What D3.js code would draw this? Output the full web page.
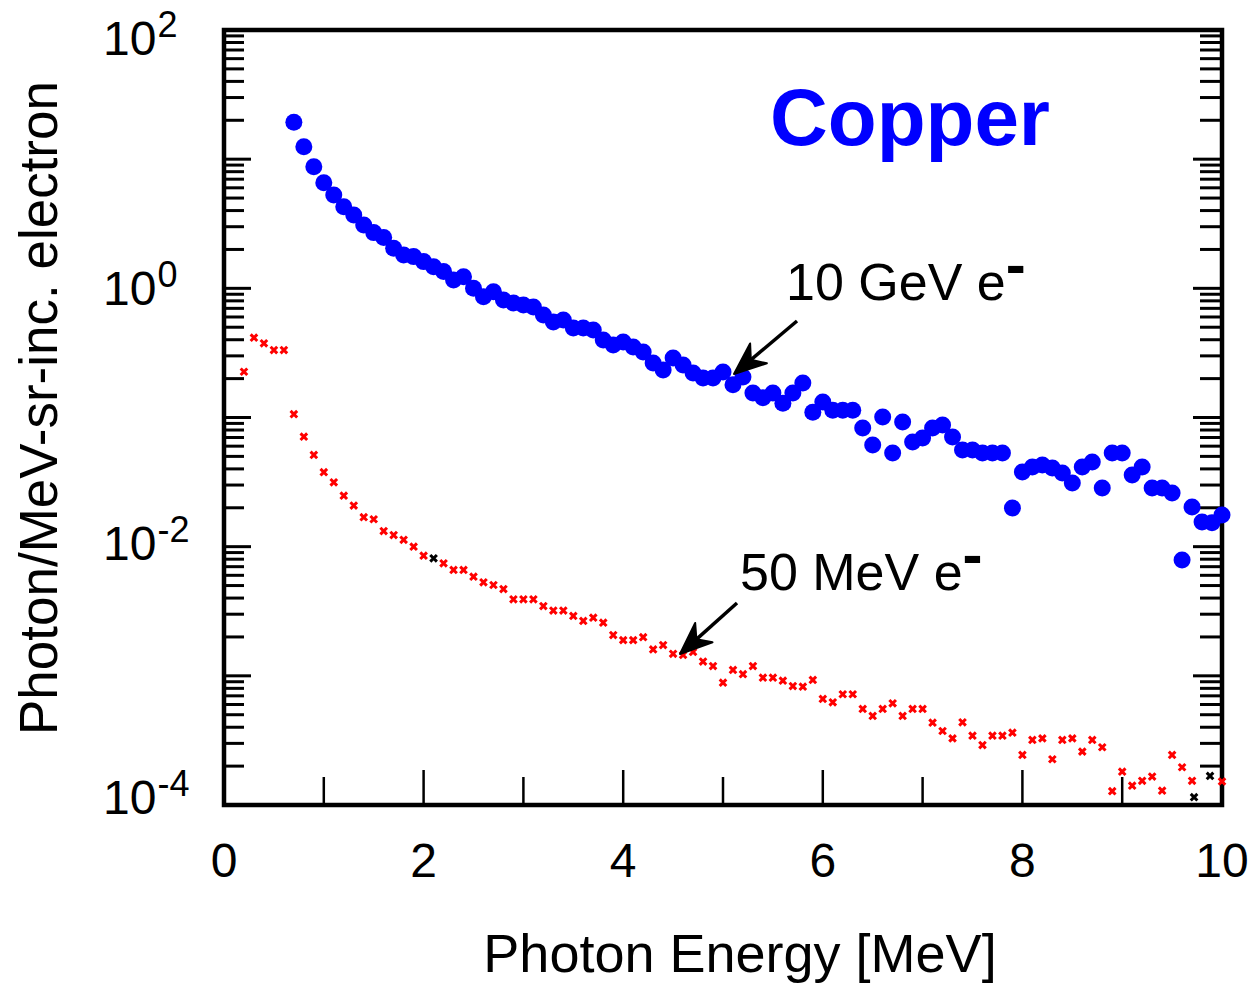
<!DOCTYPE html>
<html>
<head>
<meta charset="utf-8">
<script src="https://cdn.jsdelivr.net/npm/d3@7"></script>
<style>
  body { margin: 0; background: #fff; }
  svg { display: block; }
  text { font-family: "Liberation Sans", Arial, sans-serif; fill: #000; }
</style>
</head>
<body>
<svg id="chart" width="1248" height="985"></svg>
<script>
// 10 GeV electrons (blue dots)
var blueE = [0.7, 0.8, 0.9, 1.0, 1.1, 1.2, 1.3, 1.4, 1.5, 1.6, 1.7, 1.8, 1.9, 2.0,
	2.1, 2.2, 2.3, 2.4, 2.5, 2.6, 2.7, 2.8, 2.9, 3.0, 3.1, 3.2, 3.3, 3.4, 3.5, 3.6,
	3.7, 3.8, 3.9, 4.0, 4.1, 4.2, 4.3, 4.4, 4.5, 4.6, 4.7, 4.8, 4.9, 5.0, 5.1, 5.2,
	5.3, 5.4, 5.5, 5.6, 5.7, 5.8, 5.9, 6.0, 6.1, 6.2, 6.3, 6.4, 6.5, 6.6, 6.7, 6.8,
	6.9, 7.0, 7.1, 7.2, 7.3, 7.4, 7.5, 7.6, 7.7, 7.8, 7.9, 8.0, 8.1, 8.2, 8.3, 8.4,
	8.5, 8.6, 8.7, 8.8, 8.9, 9.0, 9.1, 9.2, 9.3, 9.4, 9.5, 9.6, 9.7, 9.8, 9.9, 10.0];
var blueY = [19.3, 12.5, 8.74, 6.57, 5.28, 4.29, 3.70, 3.09, 2.70, 2.47, 2.04, 1.81, 1.76, 1.61,
	1.47, 1.35, 1.16, 1.23, 1.00, 0.862, 0.942, 0.812, 0.770, 0.743, 0.717, 0.622, 0.549, 0.569, 0.493, 0.493,
	0.476, 0.398, 0.364, 0.384, 0.351, 0.321, 0.264, 0.233, 0.289, 0.255, 0.221, 0.202, 0.202, 0.225, 0.179, 0.206,
	0.155, 0.142, 0.155, 0.129, 0.155, 0.185, 0.110, 0.132, 0.114, 0.114, 0.114, 0.0829, 0.0612, 0.101, 0.0531, 0.0923,
	0.0646, 0.0694, 0.0829, 0.0875, 0.0707, 0.0560, 0.0560, 0.0531, 0.0531, 0.0531, 0.0199, 0.0379, 0.0414, 0.0429, 0.0407, 0.0372,
	0.0311, 0.0414, 0.0452, 0.0285, 0.0531, 0.0531, 0.0359, 0.0414, 0.0285, 0.0285, 0.0260, 0.00788, 0.0203, 0.0155, 0.0153, 0.0176];

// 50 MeV electrons (red crosses)
var redE = [0.2, 0.3, 0.4, 0.5, 0.6, 0.7, 0.8, 0.9, 1.0, 1.1, 1.2, 1.3, 1.4, 1.5, 1.6,
	1.7, 1.8, 1.9, 2.0, 2.2, 2.3, 2.4, 2.5, 2.6, 2.7, 2.8, 2.9, 3.0, 3.1, 3.2, 3.3,
	3.4, 3.5, 3.6, 3.7, 3.8, 3.9, 4.0, 4.1, 4.2, 4.3, 4.4, 4.5, 4.6, 4.7, 4.8, 4.9,
	5.0, 5.1, 5.2, 5.3, 5.4, 5.5, 5.6, 5.7, 5.8, 5.9, 6.0, 6.1, 6.2, 6.3, 6.4, 6.5,
	6.6, 6.7, 6.8, 6.9, 7.0, 7.1, 7.2, 7.3, 7.4, 7.5, 7.6, 7.7, 7.8, 7.9, 8.0, 8.1,
	8.2, 8.3, 8.4, 8.5, 8.6, 8.7, 8.8, 8.9, 9.0, 9.1, 9.2, 9.3, 9.4, 9.5, 9.6, 9.7, 10.0];
var redY = [0.226, 0.415, 0.375, 0.333, 0.333, 0.106, 0.0710, 0.0513, 0.0377, 0.0315, 0.0248, 0.0208, 0.0169, 0.0163, 0.0132,
	0.0123, 0.0113, 0.0100, 0.00852, 0.00743, 0.00660, 0.00660, 0.00586, 0.00530, 0.00505, 0.00470, 0.00391, 0.00391, 0.00391, 0.00347, 0.00320,
	0.00320, 0.00291, 0.00266, 0.00282, 0.00258, 0.00207, 0.00189, 0.00189, 0.00199, 0.00160, 0.00173, 0.00148, 0.00145, 0.00153, 0.00129, 0.00119,
	0.000885, 0.00111, 0.00103, 0.00119, 0.000968, 0.000968, 0.000917, 0.000834, 0.000824, 0.000929, 0.000662, 0.000624, 0.000720, 0.000720, 0.000554, 0.000489,
	0.000554, 0.000613, 0.000489, 0.000554, 0.000554, 0.000434, 0.000374, 0.000328, 0.000437, 0.000344, 0.000291, 0.000344, 0.000344, 0.000363, 0.000244, 0.000319,
	0.000328, 0.000226, 0.000319, 0.000328, 0.000259, 0.000319, 0.000280, 0.000128, 0.000181, 0.000141, 0.000154, 0.000166, 0.000129, 0.000244, 0.000196, 0.000154, 0.000152];

// a few crosses drawn in black
var blackE = [2.1, 9.72, 9.88];
var blackY = [0.00813, 0.000115, 0.000168];

var xTicks = [0, 1, 2, 3, 4, 5, 6, 7, 8, 9, 10];
var xLabels = [0, 2, 4, 6, 8, 10];
var yExps = [2, 0, -2, -4];
var yLabelDy = [25, 17, 13, 9];   // baseline offset of each decade label below its tick

var svg = d3.select('#chart');
var pLeft = 224, pRight = 1222, pTop = 30, pBottom = 805;

var x = d3.scaleLinear().domain([0, 10]).range([pLeft, pRight]);
var y = d3.scaleLog().domain([1e-4, 1e2]).range([pBottom, pTop]);

// y ticks: every 1..9 x 10^n
var yTicks = [];
for (var d = -4; d < 2; d++) {
	for (var k = 1; k < 10; k++) yTicks.push({v: k * Math.pow(10, d), major: k == 1});
}
yTicks.push({v: 100, major: true});

var ticks = svg.append('g').attr('stroke', '#000').attr('stroke-width', 3);
yTicks.forEach(function(t) {
	ticks.append('line')
		.attr('x1', pLeft).attr('x2', pLeft + (t.major ? 27 : 20))
		.attr('y1', y(t.v)).attr('y2', y(t.v));
	ticks.append('line')
		.attr('x1', pRight).attr('x2', pRight - (t.major ? 29 : 22))
		.attr('y1', y(t.v)).attr('y2', y(t.v));
});
xTicks.forEach(function(t) {
	ticks.append('line')
		.attr('x1', x(t)).attr('x2', x(t))
		.attr('y1', pBottom).attr('y2', pBottom - (t % 2 == 0 ? 35 : 28))
		.attr('stroke-width', 2.5);
});

// frame
svg.append('rect')
	.attr('x', pLeft).attr('y', pTop)
	.attr('width', pRight - pLeft).attr('height', pBottom - pTop)
	.attr('fill', 'none').attr('stroke', '#000').attr('stroke-width', 4.5);

// tick labels
svg.selectAll('text.xlab')
	.data(xLabels).enter()
	.append('text')
	.attr('class', 'xlab')
	.attr('x', function(d) { return x(d); })
	.attr('y', 877)
	.attr('text-anchor', 'middle')
	.style('font-size', '48px')
	.text(function(d) { return d; });

yExps.forEach(function(e, i) {
	var t = svg.append('text')
		.attr('x', 103)
		.attr('y', y(Math.pow(10, e)) + yLabelDy[i])
		.style('font-size', '48px');
	t.append('tspan').text('10');
	t.append('tspan')
		.attr('dy', -18)
		.attr('dx', 1)
		.style('font-size', '36px')
		.text(e == 0 ? '0' : (e > 0 ? e : '-' + (-e)));
});

// axis titles
svg.append('text')
	.attr('x', 740).attr('y', 972)
	.attr('text-anchor', 'middle')
	.style('font-size', '54px')
	.text('Photon Energy [MeV]');

svg.append('text')
	.attr('transform', 'translate(57,408) rotate(-90)')
	.attr('text-anchor', 'middle')
	.style('font-size', '53px')
	.text('Photon/MeV-sr-inc. electron');

// data
svg.selectAll('path.cross')
	.data(redE.map(function(e, i) { return [e, redY[i]]; }))
	.enter().append('path')
	.attr('class', 'cross')
	.attr('d', 'M-3.3,-3.3L3.3,3.3M-3.3,3.3L3.3,-3.3')
	.attr('transform', function(d) { return 'translate(' + x(d[0]) + ',' + y(d[1]) + ')'; })
	.attr('stroke', '#ff0000').attr('stroke-width', 3).attr('fill', 'none');

svg.selectAll('path.bcross')
	.data(blackE.map(function(e, i) { return [e, blackY[i]]; }))
	.enter().append('path')
	.attr('class', 'bcross')
	.attr('d', 'M-3.3,-3.3L3.3,3.3M-3.3,3.3L3.3,-3.3')
	.attr('transform', function(d) { return 'translate(' + x(d[0]) + ',' + y(d[1]) + ')'; })
	.attr('stroke', '#000').attr('stroke-width', 3).attr('fill', 'none');

svg.selectAll('circle.dot')
	.data(blueE.map(function(e, i) { return [e, blueY[i]]; }))
	.enter().append('circle')
	.attr('class', 'dot')
	.attr('cx', function(d) { return x(d[0]); })
	.attr('cy', function(d) { return y(d[1]); })
	.attr('r', 8.5)
	.attr('fill', '#0000ff');

// labels + arrows
svg.append('text')
	.attr('x', 770).attr('y', 145)
	.style('font-size', '80px').style('font-weight', 'bold')
	.style('fill', '#0000ff')
	.text('Copper');

function label(xp, yp, s) {
	var t = svg.append('text').attr('x', xp).attr('y', yp).style('font-size', '52px');
	t.append('tspan').text(s);
	t.append('tspan').attr('dy', -15).style('font-size', '60px').style('font-weight', 'bold').text('-');
}
label(786, 300, '10 GeV e');
label(740, 590, '50 MeV e');

function arrow(x1, y1, x2, y2) {
	var a = Math.atan2(y2 - y1, x2 - x1);
	var L = 32, W = 13, n = 22;
	var bx = x2 - L * Math.cos(a), by = y2 - L * Math.sin(a);
	var nx = x2 - n * Math.cos(a), ny = y2 - n * Math.sin(a);
	var px = -Math.sin(a), py = Math.cos(a);
	svg.append('line')
		.attr('x1', x1).attr('y1', y1).attr('x2', nx).attr('y2', ny)
		.attr('stroke', '#000').attr('stroke-width', 3.5);
	svg.append('path')
		.attr('d', 'M' + x2 + ',' + y2 +
			'L' + (bx + W * px) + ',' + (by + W * py) +
			'L' + nx + ',' + ny +
			'L' + (bx - W * px) + ',' + (by - W * py) + 'Z')
		.attr('fill', '#000').attr('stroke', '#000').attr('stroke-width', 2)
		.attr('stroke-linejoin', 'round');
}
arrow(797, 321, 734, 374);
arrow(737, 603, 680, 654);
</script>
</body>
</html>
